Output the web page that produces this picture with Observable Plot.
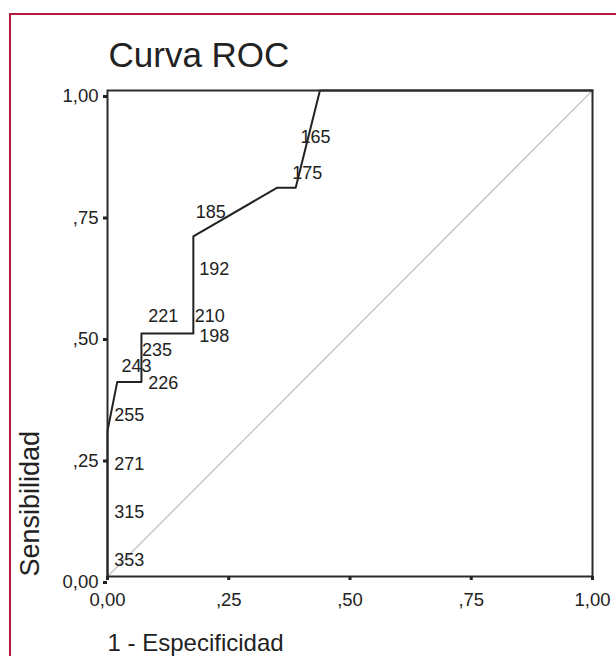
<!DOCTYPE html>
<html>
<head>
<meta charset="utf-8">
<script src="https://cdn.jsdelivr.net/npm/d3@7"></script>
<script src="https://cdn.jsdelivr.net/npm/@observablehq/plot@0.6"></script>
<style>
  html, body { margin: 0; padding: 0; background: #ffffff; }
  #wrap { position: relative; width: 616px; height: 656px; overflow: hidden; background: #ffffff; }
  #border { position: absolute; left: 9px; top: 13px; width: 700px; height: 700px;
            border-top: 2px solid #b3173f; border-left: 2px solid #b3173f; box-sizing: border-box; pointer-events: none; }
  #chart { position: absolute; left: 0; top: 0; }
  svg text { font-family: "Liberation Sans", Arial, Helvetica, sans-serif; }
</style>
</head>
<body>
<div id="wrap"><div id="chart"></div><div id="border"></div></div>
<script>
// ROC curve points (1 - specificity, sensitivity)
const fpr = [0, 0, 0.02, 0.07, 0.07, 0.177, 0.177, 0.35, 0.388, 0.438, 1];
const tpr = [0, 0.3, 0.4, 0.4, 0.5, 0.5, 0.7, 0.8, 0.8, 1, 1];

// cut-off labels and where they sit
const cutLabels = ["165", "175", "185", "192", "221", "210", "198", "235", "243", "226", "255", "271", "315", "353"];
const cutX = [0.398, 0.381, 0.182, 0.189, 0.084, 0.180, 0.189, 0.071, 0.029, 0.084, 0.014, 0.014, 0.014, 0.014];
const cutY = [0.904, 0.829, 0.749, 0.632, 0.535, 0.535, 0.494, 0.466, 0.433, 0.398, 0.331, 0.230, 0.132, 0.033];

// reference diagonal
const diagX = [0, 1];
const diagY = [0, 1];

// axis ticks
const tickValues = [0, 0.25, 0.5, 0.75, 1];
const tickLabels = ["0,00", ",25", ",50", ",75", "1,00"];

const titleText = "Curva ROC";
const xTitle = "1 - Especificidad";
const yTitle = "Sensibilidad";

const roc = fpr.map((x, i) => ({x, y: tpr[i]}));
const diag = diagX.map((x, i) => ({x, y: diagY[i]}));
const cuts = cutLabels.map((t, i) => ({t, x: cutX[i], y: cutY[i]}));
const fmt = v => tickLabels[tickValues.indexOf(v)];

const chart = Plot.plot({
  width: 616,
  height: 656,
  marginLeft: 107,
  marginRight: 24,
  marginTop: 90,
  marginBottom: 80,
  style: {background: "transparent", color: "#222", fontSize: "18px", fontFamily: "Liberation Sans, Arial, sans-serif"},
  x: {domain: [0, 1]},
  y: {domain: [0, 1]},
  marks: [
    Plot.line(diag, {x: "x", y: "y", stroke: "#c8c8c8", strokeWidth: 1.5}),
    Plot.line(roc, {x: "x", y: "y", stroke: "#222", strokeWidth: 2}),
    Plot.frame({stroke: "#2b2b2b", strokeWidth: 2}),
    Plot.axisX({ticks: tickValues, tickFormat: fmt, tickSize: 4, strokeWidth: 3, tickPadding: 12, label: null, fontSize: 18.5, fill: "#222", stroke: "#222"}),
    Plot.axisY({ticks: tickValues, tickFormat: fmt, tickSize: 4, strokeWidth: 3, tickPadding: 5, label: null, fontSize: 18.5, fill: "#222", stroke: "#222", dy: 6}),
    Plot.text(cuts, {x: "x", y: "y", text: "t", textAnchor: "start", fontSize: 18, fill: "#222"}),
    Plot.text([titleText], {frameAnchor: "top-left", text: d => d, textAnchor: "start", lineAnchor: "bottom", fontSize: 35, fill: "#222", dx: 1, dy: -23.5}),
    Plot.text([xTitle], {frameAnchor: "bottom-left", text: d => d, textAnchor: "start", lineAnchor: "bottom", fontSize: 24, fill: "#222", dx: 0, dy: 74.5}),
    Plot.text([yTitle], {frameAnchor: "bottom-left", text: d => d, textAnchor: "start", lineAnchor: "bottom", rotate: -90, fontSize: 27, fill: "#222", dx: -69, dy: 0})
  ]
});
document.getElementById("chart").appendChild(chart);
</script>
</body>
</html>
